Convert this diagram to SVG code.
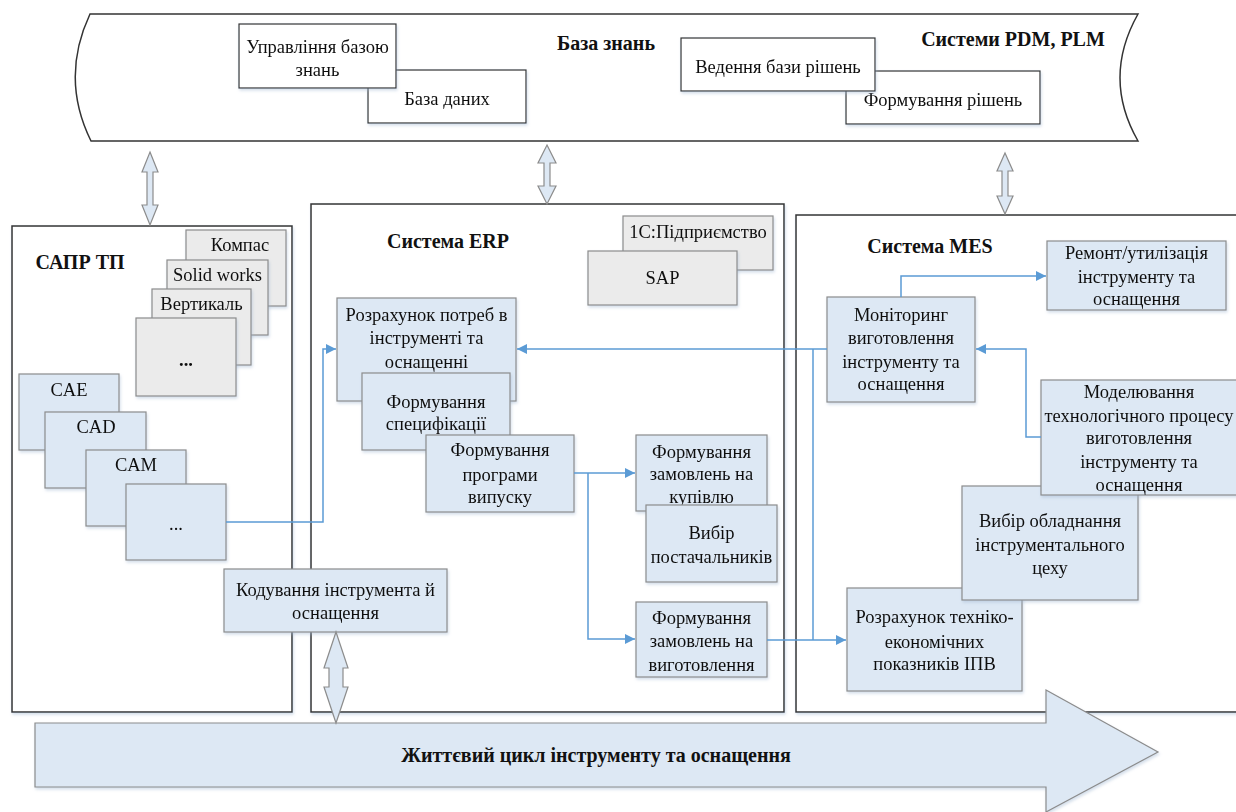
<svg xmlns="http://www.w3.org/2000/svg" width="1236" height="812" viewBox="0 0 1236 812">
  <defs>
    <filter id="sh" x="-10%" y="-10%" width="130%" height="140%">
      <feDropShadow dx="1" dy="2" stdDeviation="1.5" flood-color="#9fb6d0" flood-opacity="0.45"/>
    </filter>
    <marker id="arr" viewBox="0 0 10 10" refX="10" refY="5" markerWidth="10" markerHeight="10" markerUnits="userSpaceOnUse" orient="auto">
      <path d="M0,0 L10,5 L0,10 Z" fill="#5b9bd5"/>
    </marker>
  </defs>
  <style>
    text { font-family: "Liberation Serif", "Times New Roman", serif; fill: #111; }
    .t { font-size: 18.5px; text-anchor: middle; }
    .b { font-size: 20px; font-weight: bold; text-anchor: middle; }
    .white { fill: #ffffff; stroke: #333333; stroke-width: 1.2; }
    .blue { fill: #dde8f4; stroke: #8c8c8c; stroke-width: 1.2; }
    .gray { fill: #ebebeb; stroke: #8c8c8c; stroke-width: 1.2; }
    .frame { fill: #ffffff; stroke: #333333; stroke-width: 1.5; }
    .dbl { fill: #dde8f4; stroke: #8c8c8c; stroke-width: 1.2; }
    .link { fill: none; stroke: #5b9bd5; stroke-width: 1.5; }
  </style>

  <rect width="1236" height="812" fill="#ffffff"/>

  <!-- Knowledge base banner -->
  <g id="knowledge-base">
    <path class="frame" d="M90,14 L1138,14 Q1102,78 1138,141 L91,141 Q60,78 90,14 Z"/>
    <text class="b" x="606" y="50">База знань</text>
    <text class="b" x="1013" y="46">Системи PDM, PLM</text>
  </g>
  <g id="db" filter="url(#sh)">
    <rect class="white" x="368" y="70" width="158" height="53"/>
    <text class="t" x="447" y="105">База даних</text>
  </g>
  <g id="kb-management" filter="url(#sh)">
    <rect class="white" x="239" y="24" width="157" height="64"/>
    <text class="t" x="317.5" y="53">Управління базою</text>
    <text class="t" x="317.5" y="76">знань</text>
  </g>
  <g id="decision-forming" filter="url(#sh)">
    <rect class="white" x="846" y="71" width="194" height="53"/>
    <text class="t" x="943" y="106">Формування рішень</text>
  </g>
  <g id="decision-base" filter="url(#sh)">
    <rect class="white" x="681" y="38" width="194" height="53"/>
    <text class="t" x="778" y="73">Ведення бази рішень</text>
  </g>

  <!-- Containers -->
  <g id="cad-system">
    <rect class="frame" x="12" y="226" width="280" height="486" filter="url(#sh)"/>
    <text class="b" x="80" y="269">САПР ТП</text>
  </g>
  <g id="erp-system">
    <rect class="frame" x="311" y="204" width="473" height="508" filter="url(#sh)"/>
    <text class="b" x="448" y="248">Система ERP</text>
  </g>
  <g id="mes-system">
    <rect class="frame" x="796" y="215" width="450" height="497" filter="url(#sh)"/>
    <text class="b" x="930" y="253">Система MES</text>
  </g>

  <!-- Knowledge base exchange arrows -->
  <g id="exchange-arrows">
    <polygon class="dbl" points="150,152 158,172 153,172 153,205 158,205 150,225 142,205 147,205 147,172 142,172"/>
    <polygon class="dbl" points="547,145 556,163 550,163 550,186 556,186 547,204 538,186 544,186 544,163 538,163"/>
    <polygon class="dbl" points="1005,153 1013,171 1008,171 1008,196 1013,196 1005,214 997,196 1002,196 1002,171 997,171"/>
  </g>

  <!-- CAD packages -->
  <g id="kompas" filter="url(#sh)">
    <rect class="gray" x="186" y="230" width="100" height="76"/>
    <text class="t" x="240" y="251">Компас</text>
  </g>
  <g id="solidworks" filter="url(#sh)">
    <rect class="gray" x="167" y="260" width="101" height="75"/>
    <text class="t" x="217.5" y="281">Solid works</text>
  </g>
  <g id="vertical" filter="url(#sh)">
    <rect class="gray" x="152" y="289" width="99" height="76"/>
    <text class="t" x="201.5" y="310">Вертикаль</text>
  </g>
  <g id="cad-more" filter="url(#sh)">
    <rect class="gray" x="136" y="318" width="100" height="78"/>
    <text class="t" x="186" y="366" font-weight="bold">...</text>
  </g>

  <g id="cae" filter="url(#sh)">
    <rect class="blue" x="19" y="374" width="100" height="76"/>
    <text class="t" x="69" y="396">CAE</text>
  </g>
  <g id="cad" filter="url(#sh)">
    <rect class="blue" x="45" y="412" width="101" height="76"/>
    <text class="t" x="96" y="433">CAD</text>
  </g>
  <g id="cam" filter="url(#sh)">
    <rect class="blue" x="86" y="450" width="100" height="76"/>
    <text class="t" x="136" y="471">CAM</text>
  </g>
  <g id="cax-more" filter="url(#sh)">
    <rect class="blue" x="126" y="484" width="100" height="76"/>
    <text class="t" x="176" y="530">...</text>
  </g>

  <!-- ERP nodes -->
  <g id="erp-1c" filter="url(#sh)">
    <rect class="gray" x="623" y="216" width="150" height="54"/>
    <text class="t" x="698" y="238">1С:Підприємство</text>
  </g>
  <g id="erp-sap" filter="url(#sh)">
    <rect class="gray" x="588" y="251" width="149" height="54"/>
    <text class="t" x="662.5" y="284">SAP</text>
  </g>
  <g id="needs" filter="url(#sh)">
    <rect class="blue" x="337" y="298" width="179" height="103"/>
    <text class="t" x="426.5" y="321">Розрахунок потреб в</text>
    <text class="t" x="426.5" y="344">інструменті та</text>
    <text class="t" x="426.5" y="368">оснащенні</text>
  </g>
  <g id="spec" filter="url(#sh)">
    <rect class="blue" x="362" y="373" width="148" height="77"/>
    <text class="t" x="436" y="408">Формування</text>
    <text class="t" x="436" y="430">специфікації</text>
  </g>
  <g id="program" filter="url(#sh)">
    <rect class="blue" x="426" y="435" width="148" height="77"/>
    <text class="t" x="500" y="456">Формування</text>
    <text class="t" x="500" y="481">програми</text>
    <text class="t" x="500" y="503">випуску</text>
  </g>
  <g id="purchase" filter="url(#sh)">
    <rect class="blue" x="636" y="435" width="131" height="76"/>
    <text class="t" x="701.5" y="458">Формування</text>
    <text class="t" x="701.5" y="480">замовлень на</text>
    <text class="t" x="701.5" y="503">купівлю</text>
  </g>
  <g id="suppliers" filter="url(#sh)">
    <rect class="blue" x="646" y="505" width="131" height="77"/>
    <text class="t" x="711.5" y="539">Вибір</text>
    <text class="t" x="711.5" y="563">постачальників</text>
  </g>
  <g id="manufacture" filter="url(#sh)">
    <rect class="blue" x="636" y="602" width="131" height="75"/>
    <text class="t" x="701.5" y="624">Формування</text>
    <text class="t" x="701.5" y="647">замовлень на</text>
    <text class="t" x="701.5" y="671">виготовлення</text>
  </g>

  <!-- MES nodes -->
  <g id="repair" filter="url(#sh)">
    <rect class="blue" x="1047" y="241" width="179" height="69"/>
    <text class="t" x="1136.5" y="259">Ремонт/утилізація</text>
    <text class="t" x="1136.5" y="283">інструменту та</text>
    <text class="t" x="1136.5" y="305">оснащення</text>
  </g>
  <g id="monitoring" filter="url(#sh)">
    <rect class="blue" x="827" y="297" width="148" height="105"/>
    <text class="t" x="901" y="321">Моніторинг</text>
    <text class="t" x="901" y="344">виготовлення</text>
    <text class="t" x="901" y="368">інструменту та</text>
    <text class="t" x="901" y="390">оснащення</text>
  </g>
  <g id="tech-economic" filter="url(#sh)">
    <rect class="blue" x="847" y="588" width="175" height="103"/>
    <text class="t" x="934.5" y="623">Розрахунок техніко-</text>
    <text class="t" x="934.5" y="648">економічних</text>
    <text class="t" x="934.5" y="670">показників ІПВ</text>
  </g>
  <g id="equipment" filter="url(#sh)">
    <rect class="blue" x="962" y="486" width="176" height="114"/>
    <text class="t" x="1050" y="527">Вибір обладнання</text>
    <text class="t" x="1050" y="551">інструментального</text>
    <text class="t" x="1050" y="574">цеху</text>
  </g>
  <g id="modelling" filter="url(#sh)">
    <rect class="blue" x="1041" y="380" width="197" height="115"/>
    <text class="t" x="1139" y="398">Моделювання</text>
    <text class="t" x="1139" y="422">технологічного процесу</text>
    <text class="t" x="1139" y="444">виготовлення</text>
    <text class="t" x="1139" y="468">інструменту та</text>
    <text class="t" x="1139" y="491">оснащення</text>
  </g>

  <!-- Connectors -->
  <g id="connectors">
    <polyline class="link" points="226,522 323,522 323,349 336,349" marker-end="url(#arr)"/>
    <polyline class="link" points="827,349 517,349" marker-end="url(#arr)"/>
    <polyline class="link" points="813,349 813,640"/>
    <polyline class="link" points="767,640 846,640" marker-end="url(#arr)"/>
    <polyline class="link" points="574,473 635,473" marker-end="url(#arr)"/>
    <polyline class="link" points="588,473 588,639 635,639" marker-end="url(#arr)"/>
    <polyline class="link" points="901,297 901,276 1046,276" marker-end="url(#arr)"/>
    <polyline class="link" points="1041,437 1026,437 1026,349 976,349" marker-end="url(#arr)"/>
  </g>

  <!-- Coding node spanning CAD and ERP -->
  <g id="coding" filter="url(#sh)">
    <rect class="blue" x="224" y="569" width="223" height="63"/>
    <text class="t" x="335.5" y="596">Кодування інструмента й</text>
    <text class="t" x="335.5" y="619">оснащення</text>
  </g>

  <!-- Life cycle arrow -->
  <g id="life-cycle">
    <polygon class="dbl" points="35,723 1046,723 1046,690 1158,752 1046,812 1046,787 35,787" filter="url(#sh)"/>
    <text class="b" x="596" y="762">Життєвий цикл інструменту та оснащення</text>
  </g>

  <g id="coding-exchange">
    <polygon class="dbl" points="336,632 348,668 343,668 343,687 348,687 336,723 324,687 329,687 329,668 324,668"/>
  </g>
</svg>
